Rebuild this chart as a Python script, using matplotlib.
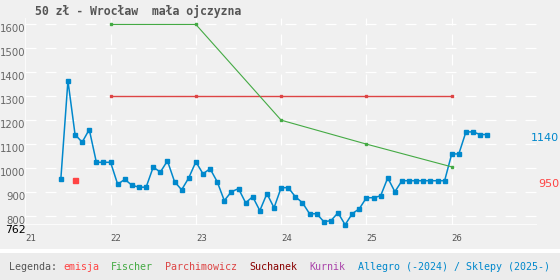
import matplotlib
matplotlib.use("Agg")
import matplotlib.pyplot as plt
from matplotlib.patches import Rectangle

plt.rcParams['lines.scale_dashes'] = False

# ---- data ----
title = "50 zł - Wrocław  mała ojczyzna"

blue_start_year = 2021
blue_start_month = 6  # first monthly point
blue_values = [954, 1365, 1140, 1108, 1161, 1024, 1024, 1024, 932, 953, 928, 920,
               920, 1004, 983, 1030, 943, 909, 959, 1026, 976, 997, 943, 864,
               901, 914, 855, 880, 822, 893, 834, 918, 918, 880, 855, 809,
               809, 776, 780, 813, 763, 809, 830, 876, 876, 884, 959, 901,
               947, 947, 947, 947, 947, 947, 947, 1059, 1059, 1151, 1151, 1140,
               1140]

fischer_x = [22, 23, 24, 25, 26]
fischer_y = [1600, 1600, 1200, 1100, 1005]

parch_x = [22, 23, 24, 25, 26]
parch_y = [1300, 1300, 1300, 1300, 1300]

emisja_x = [21.58]
emisja_y = [950]

x_ticks = [21, 22, 23, 24, 25, 26]
x_tick_labels = ["21", "22", "23", "24", "25", "26"]
y_ticks = [800, 900, 1000, 1100, 1200, 1300, 1400, 1500, 1600]
y_min, y_max = 762, 1627
x_min, x_max = 21, 27

right_labels = [(1140, "1140", "#0088cc"), (950, "950", "#ff4444")]

legend_items = [("Legenda: ", "#555555"), ("emisja", "#ff4444"), ("  ", "#555555"),
                ("Fischer", "#44aa44"), ("  ", "#555555"),
                ("Parchimowicz", "#dd4444"), ("  ", "#555555"),
                ("Suchanek", "#880000"), ("  ", "#555555"),
                ("Kurnik", "#aa44aa"), ("  ", "#555555"),
                ("Allegro (-2024) / Sklepy (2025-)", "#0088cc")]

# ---- figure ----
W, H = 560, 280
fig = plt.figure(figsize=(W / 100, H / 100), dpi=100)
fig.patch.set_facecolor('#f0f0f0')

# legend band
fig.patches.append(Rectangle((0, 0), 1, (H - 253) / H, transform=fig.transFigure,
                             facecolor='#ececec', edgecolor='none', zorder=0))
fig.patches.append(Rectangle((0, (H - 253) / H), 1, 4 / H, transform=fig.transFigure,
                             facecolor='#ffffff', edgecolor='none', zorder=0))

ax_l, ax_r, ax_t, ax_b = 25.3, 537, 18, 225
ax = fig.add_axes([ax_l / W, 1 - ax_b / H, (ax_r - ax_l) / W, (ax_b - ax_t) / H])
ax.set_facecolor('#f0f0f0')
ax.set_xlim(x_min, x_max)
ax.set_ylim(y_min, y_max)
for s in ax.spines.values():
    s.set_visible(False)

dash = (0, (7.9, 6.5))
for yv in y_ticks:
    ax.axhline(yv, color='white', lw=0.85, linestyle=dash, zorder=1)
for xv in x_ticks[1:]:
    ax.axvline(xv, color='white', lw=0.85, linestyle=dash, zorder=1)
ax.axhline(y_min, color='white', lw=1.1, zorder=1)
ax.axvline(x_min, color='white', lw=1.1, zorder=1)

# blue series
blue_x = [blue_start_year - 2000 + (blue_start_month - 1 + i) / 12 for i in range(len(blue_values))]
ax.plot(blue_x, blue_values, color='#0088cc', lw=1.1, marker='s', ms=2.3,
        mec='#0088cc', mfc='#0088cc', zorder=3, clip_on=False)
ax.plot(parch_x, parch_y, color='#dd4444', lw=1.0, marker='s', ms=2.1, zorder=4)
ax.plot(fischer_x, fischer_y, color='#44aa44', lw=0.8, marker='s', ms=2.1, zorder=5)
ax.plot(emisja_x, emisja_y, linestyle='none', marker='s', ms=3.6, color='#ff4444', zorder=6)

# ticks
ax.tick_params(length=0)
ax.set_xticks(x_ticks)
ax.set_xticklabels(x_tick_labels, family='DejaVu Sans Mono', fontsize=6.5, color='#555555', ha='left')
ax.tick_params(axis='x', pad=6.5)
ax.set_yticks(y_ticks + [y_min])
ax.set_yticklabels([str(v) for v in y_ticks] + [str(y_min)], fontsize=7.3, color='#666666', va='top')
ax.get_yticklabels()[-1].set_color('black')
ax.get_yticklabels()[-1].set_fontsize(7.8)
ax.tick_params(axis='y', pad=0)

for val, txt, col in right_labels:
    ax.annotate(txt, xy=(1, val), xycoords=('axes fraction', 'data'),
                xytext=(22 * 0.72, 0.8), textcoords='offset points',
                ha='right', va='top', fontsize=8, color=col, annotation_clip=False)

fig.text(35 / W, 1 - 15.5 / H, title, family='DejaVu Sans Mono', fontweight='bold',
         fontsize=8.3, color='#555555', ha='left', va='baseline')

# legend
cw = 6.01
pos = 0
for txt, col in legend_items:
    fig.text((9 + pos * cw) / W, 1 - 270.5 / H, txt, family='DejaVu Sans Mono',
             fontsize=7.2, color=col, ha='left', va='baseline')
    pos += len(txt)

fig.savefig('out.png', dpi=100, facecolor=fig.get_facecolor())
